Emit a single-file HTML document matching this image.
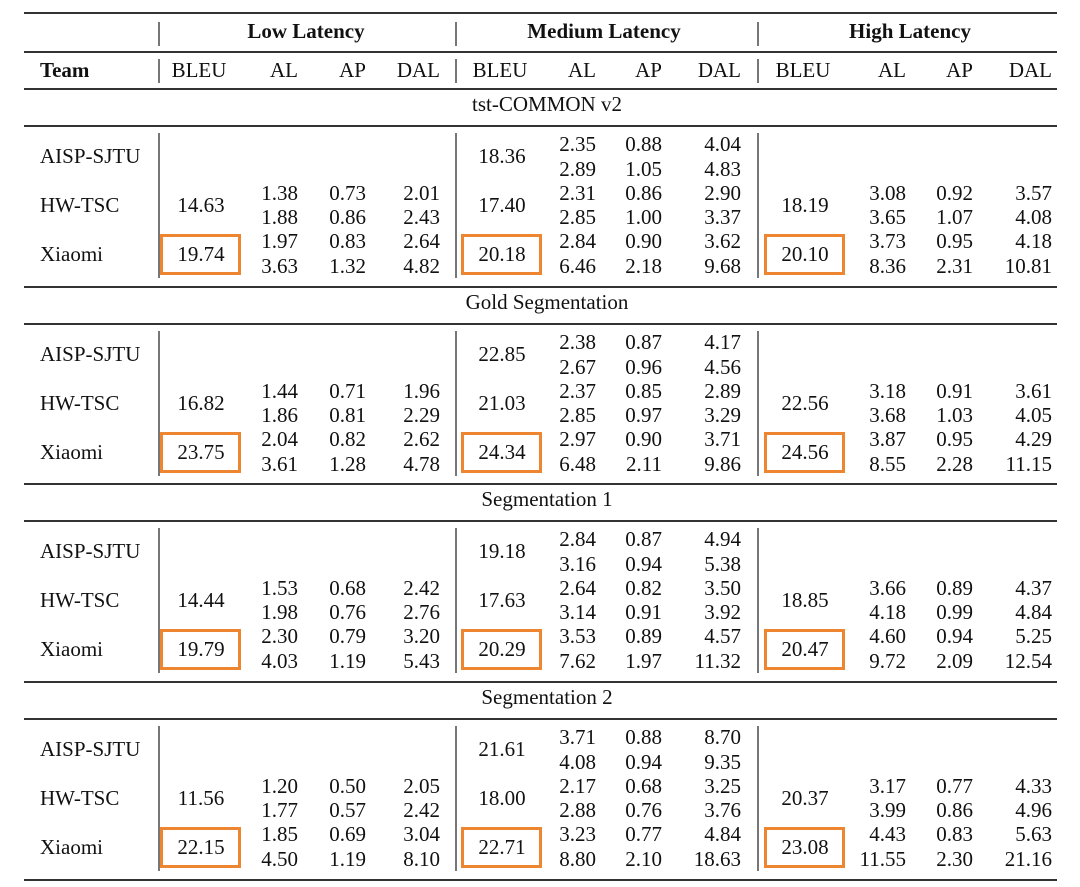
<!DOCTYPE html>
<html><head><meta charset="utf-8"><style>
body{margin:0;background:#fff;width:1080px;height:887px;position:relative;overflow:hidden;font-family:"Liberation Serif",serif;color:#111}
.t{position:absolute;font-size:21px;line-height:24px;white-space:nowrap}
.r{transform:translate(-100%,-50%)}
.c{transform:translate(-50%,-50%)}
.l{transform:translate(0,-50%)}
.h{position:absolute;left:24px;width:1033px;background:#333}
.v{position:absolute;width:2px;background:#777}
.box{position:absolute;width:75px;height:35px;border:3px solid #ee8530}
b{font-weight:bold}
</style></head><body>
<div id="root"></div>
<script>
const R=document.body;
function t(x,y,s,cls,bold){const d=document.createElement('div');d.className='t '+cls;d.style.left=x+'px';d.style.top=y+'px';d.innerHTML=bold?'<b>'+s+'</b>':s;R.appendChild(d);}
function h(y,th){const d=document.createElement('div');d.className='h';d.style.top=y+'px';d.style.height=th+'px';R.appendChild(d);}
function v(x,y1,y2){const d=document.createElement('div');d.className='v';d.style.left=x+'px';d.style.top=y1+'px';d.style.height=(y2-y1)+'px';R.appendChild(d);}
function box(x,y){const d=document.createElement('div');d.className='box';d.style.left=x+'px';d.style.top=y+'px';R.appendChild(d);}
h(12,2);h(51,2);h(88,2);h(879,2);
const VX=[158,455,757];
VX.forEach(x=>{v(x,22,46);v(x,59,83);});
t(306,31,'Low Latency','c',1);t(604,31,'Medium Latency','c',1);t(910,31,'High Latency','c',1);
t(40,70,'Team','l',1);
const BC=[201,502,805],AL=[298,596,906],AP=[366,662,973],DA=[440,741,1052];
for(let g=0;g<3;g++){t(BC[g]-2,70,'BLEU','c');t(AL[g],70,'AL','r');t(AP[g],70,'AP','r');t(DA[g],70,'DAL','r');}
const S=[
['tst-COMMON v2',[
 [null,['18.36','2.35','2.89','0.88','1.05','4.04','4.83'],null],
 [['14.63','1.38','1.88','0.73','0.86','2.01','2.43'],['17.40','2.31','2.85','0.86','1.00','2.90','3.37'],['18.19','3.08','3.65','0.92','1.07','3.57','4.08']],
 [['19.74','1.97','3.63','0.83','1.32','2.64','4.82'],['20.18','2.84','6.46','0.90','2.18','3.62','9.68'],['20.10','3.73','8.36','0.95','2.31','4.18','10.81']]]],
['Gold Segmentation',[
 [null,['22.85','2.38','2.67','0.87','0.96','4.17','4.56'],null],
 [['16.82','1.44','1.86','0.71','0.81','1.96','2.29'],['21.03','2.37','2.85','0.85','0.97','2.89','3.29'],['22.56','3.18','3.68','0.91','1.03','3.61','4.05']],
 [['23.75','2.04','3.61','0.82','1.28','2.62','4.78'],['24.34','2.97','6.48','0.90','2.11','3.71','9.86'],['24.56','3.87','8.55','0.95','2.28','4.29','11.15']]]],
['Segmentation 1',[
 [null,['19.18','2.84','3.16','0.87','0.94','4.94','5.38'],null],
 [['14.44','1.53','1.98','0.68','0.76','2.42','2.76'],['17.63','2.64','3.14','0.82','0.91','3.50','3.92'],['18.85','3.66','4.18','0.89','0.99','4.37','4.84']],
 [['19.79','2.30','4.03','0.79','1.19','3.20','5.43'],['20.29','3.53','7.62','0.89','1.97','4.57','11.32'],['20.47','4.60','9.72','0.94','2.09','5.25','12.54']]]],
['Segmentation 2',[
 [null,['21.61','3.71','4.08','0.88','0.94','8.70','9.35'],null],
 [['11.56','1.20','1.77','0.50','0.57','2.05','2.42'],['18.00','2.17','2.88','0.68','0.76','3.25','3.76'],['20.37','3.17','3.99','0.77','0.86','4.33','4.96']],
 [['22.15','1.85','4.50','0.69','1.19','3.04','8.10'],['22.71','3.23','8.80','0.77','2.10','4.84','18.63'],['23.08','4.43','11.55','0.83','2.30','5.63','21.16']]]]
];
const TOPS=[88,286,483,681];
const names=['AISP-SJTU','HW-TSC','Xiaomi'];
S.forEach((sec,i)=>{
 const T=TOPS[i];
 t(547,T+16,sec[0],'c');
 h(T+37,2);
 if(i<3)h(TOPS[i+1],2);
 VX.forEach(x=>v(x,T+45,T+190));
 sec[1].forEach((row,k)=>{
  const y1=T+56+k*48.7,y2=y1+24.5,ym=(y1+y2)/2;
  t(40,ym,names[k],'l');
  row.forEach((d,g)=>{
   if(!d)return;
   t(BC[g],ym,d[0],'c');
   t(AL[g],y1,d[1],'r');t(AL[g],y2,d[2],'r');
   t(AP[g],y1,d[3],'r');t(AP[g],y2,d[4],'r');
   t(DA[g],y1,d[5],'r');t(DA[g],y2,d[6],'r');
   if(k==2)box(BC[g]-41,ym-20);
  });
 });
});
</script>
</body></html>
